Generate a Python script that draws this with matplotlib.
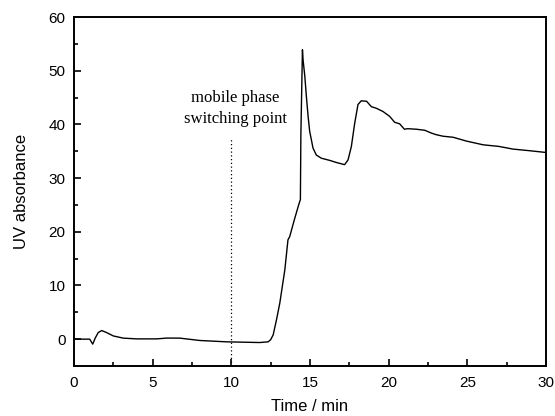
import matplotlib
matplotlib.use("Agg")
import matplotlib.pyplot as plt
from matplotlib.ticker import MultipleLocator

# chromatogram
time_min = [0.0, 0.5, 1.0, 1.19, 1.35, 1.54, 1.76, 2.07, 2.5, 3.13, 3.98, 5.25, 5.9,
            6.73, 8.0, 9.7, 11.0, 11.8, 12.34, 12.5, 12.66, 12.87, 13.08, 13.4,
            13.6, 13.71, 14.03, 14.31, 14.39, 14.42, 14.52, 14.56, 14.67, 14.77,
            14.88, 14.98, 15.09, 15.19, 15.4, 15.72, 16.25, 16.68, 17.2, 17.42,
            17.63, 17.84, 18.05, 18.26, 18.6, 18.9, 19.22, 19.64, 20.06, 20.38,
            20.7, 21.0, 21.2, 21.76, 22.3, 22.7, 23.0, 23.45, 24.1, 24.93, 26.0,
            27.0, 27.9, 28.95, 29.9, 30.0]
uv_abs = [0.0, 0.0, 0.0, -0.93, 0.2, 1.23, 1.6, 1.23, 0.6, 0.19, 0.05, 0.05, 0.2,
          0.19, -0.25, -0.5, -0.58, -0.63, -0.5, -0.1, 0.8, 3.6, 6.7, 12.9,
          18.5, 19.1, 22.5, 25.3, 26.0, 38.0, 53.9, 52.0, 49.0, 45.2,
          41.5, 38.7, 37.1, 35.6, 34.3, 33.7, 33.3, 32.9, 32.5, 33.4,
          35.9, 40.2, 43.7, 44.4, 44.3, 43.3, 43.0, 42.4, 41.5, 40.4,
          40.1, 39.1, 39.2, 39.1, 38.9, 38.4, 38.1, 37.8, 37.6, 36.9, 36.2,
          35.9, 35.4, 35.1, 34.8, 34.8]

switch_time = 10
switch_top = 37.4

fig = plt.figure(figsize=(5.55, 4.16), dpi=100)
ax = fig.add_axes([0.1333, 0.1202, 0.8505, 0.8389])

ax.plot(time_min, uv_abs, color="black", lw=1.0)
ax.plot([switch_time, switch_time], [-5, switch_top], color="black", lw=0.9, ls=(0, (1, 2)))
ax.text(10.25, 42.9, "mobile phase\nswitching point", ha="center", va="center",
        family="Liberation Serif", fontsize=12, linespacing=1.4)

ax.set_xlim(0, 30)
ax.set_ylim(-5, 60)
ax.xaxis.set_major_locator(MultipleLocator(5))
ax.xaxis.set_minor_locator(MultipleLocator(2.5))
ax.yaxis.set_major_locator(MultipleLocator(10))
ax.yaxis.set_minor_locator(MultipleLocator(5))
ax.set_yticks(range(0, 61, 10))
ax.tick_params(which="both", direction="in", top=False, right=False, labelsize=11, width=1.2)
ax.tick_params(which="major", length=5)
ax.tick_params(which="minor", length=3)
ax.tick_params(axis="x", which="major", pad=7)
ax.tick_params(axis="y", which="major", pad=6)
for lab in ax.get_xticklabels() + ax.get_yticklabels():
    lab.set_family("Liberation Sans")
for s in ax.spines.values():
    s.set_linewidth(1.4)

ax.set_xlabel("Time / min", family="Liberation Sans", fontsize=12, labelpad=7)
ax.set_ylabel("UV absorbance", family="Liberation Sans", fontsize=12, labelpad=14)

fig.savefig("out.png", dpi=100)
